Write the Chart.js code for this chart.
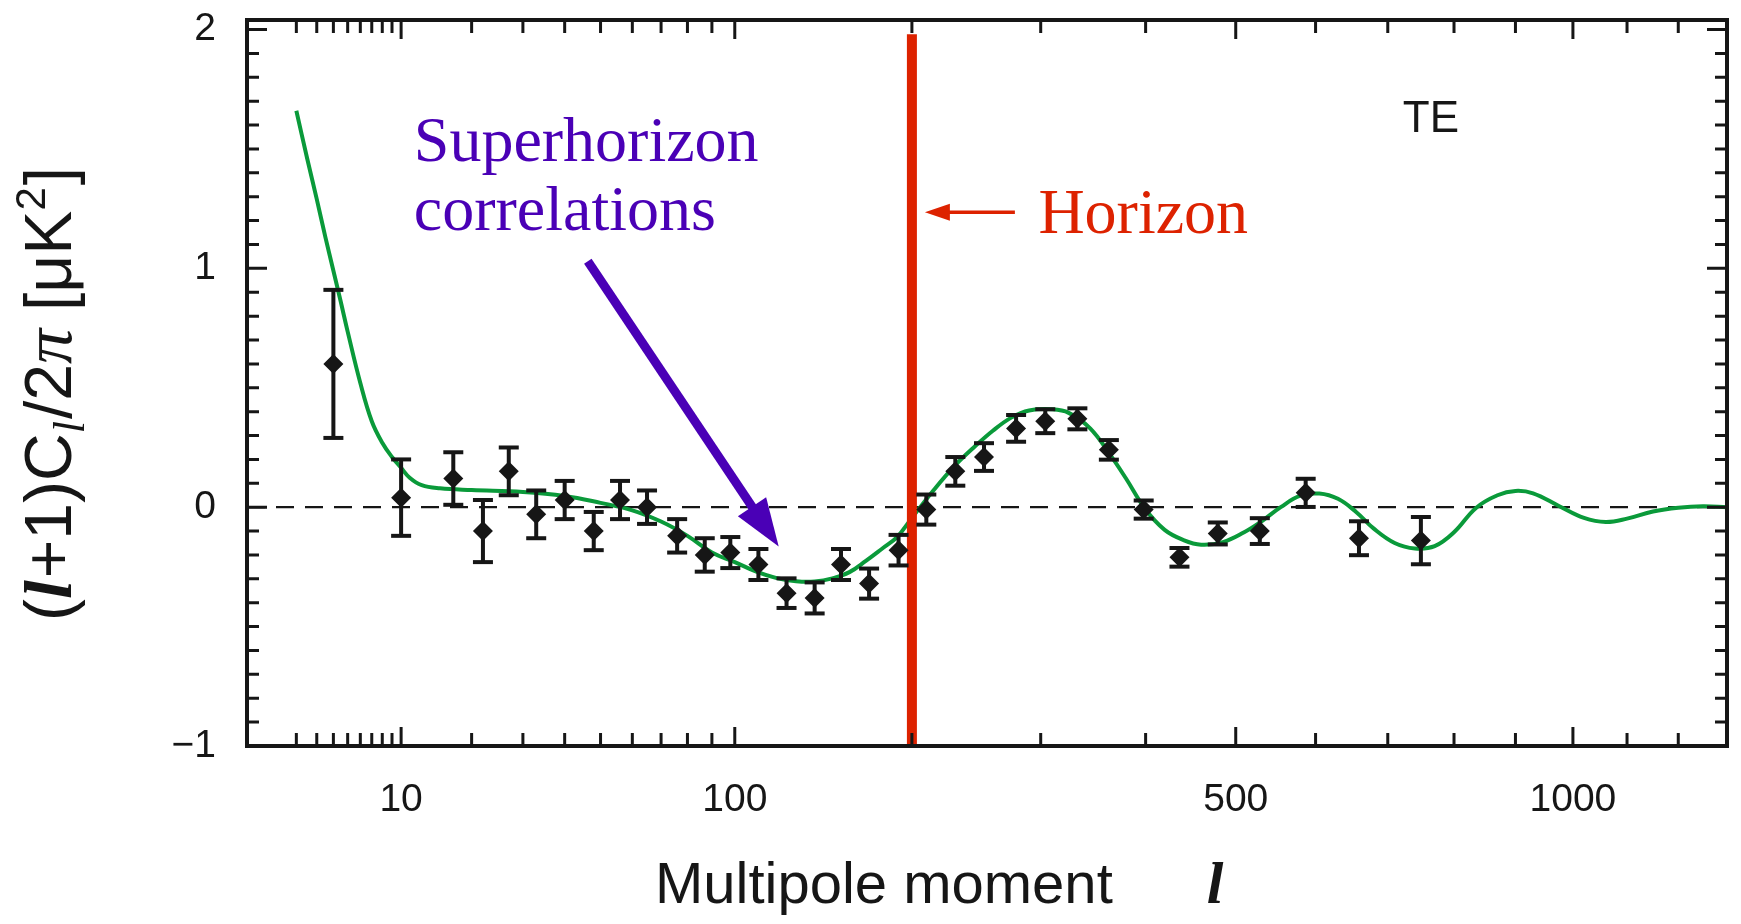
<!DOCTYPE html>
<html lang="en">
<head>
<meta charset="UTF-8">
<title>TE power spectrum</title>
<script src="https://cdn.jsdelivr.net/npm/chart.js"></script>
<style>
  html, body { margin: 0; padding: 0; background: #fff; }
  #wrap { width: 1741px; height: 924px; }
</style>
</head>
<body>
<div id="wrap"><canvas id="teChart"></canvas></div>
<script>
// binned TE measurements: multipole, value, 1-sigma error
const binL = [4, 10, 17, 22, 27, 33, 40, 48, 56, 65, 76, 87, 98, 111, 125, 140, 155, 172,
              191, 210, 231, 253, 279, 304, 333, 363, 398, 436, 479, 529, 587, 659, 749];
const binTE = [0.60, 0.04, 0.12, -0.10, 0.15, -0.03, 0.03, -0.10, 0.03, 0.00, -0.12, -0.20, -0.19,
               -0.24, -0.36, -0.38, -0.24, -0.32, -0.18, -0.01, 0.15, 0.21, 0.33, 0.36, 0.37, 0.24,
               -0.01, -0.21, -0.11, -0.10, 0.06, -0.13, -0.14];
const binErr = [0.31, 0.16, 0.11, 0.13, 0.10, 0.10, 0.08, 0.08, 0.08, 0.07, 0.07, 0.07, 0.065,
                0.065, 0.062, 0.065, 0.065, 0.063, 0.064, 0.063, 0.06, 0.058, 0.056, 0.05, 0.044,
                0.041, 0.038, 0.039, 0.046, 0.054, 0.059, 0.071, 0.099];

// model curve
const modelL = [2, 2.5, 3, 3.5, 4, 4.5, 5, 6, 7, 8, 9, 10, 11, 12.5, 15, 20, 30, 40, 50, 60, 70,
                80, 90, 100, 110, 120, 130, 140, 150, 160, 170, 180, 190, 200, 215, 230, 245, 260,
                275, 290, 310, 325, 345, 365, 380, 400, 420, 440, 460, 485, 510, 530, 555, 580,
                605, 630, 655, 680, 710, 740, 770, 800, 835, 870, 900, 930, 975, 1020, 1060, 1100,
                1150, 1200, 1250, 1300];
const modelTE = [1.66, 1.46, 1.29, 1.13, 0.99, 0.86, 0.735, 0.52, 0.36, 0.27, 0.21, 0.165, 0.123,
                 0.092, 0.079, 0.072, 0.064, 0.047, 0.018, -0.013, -0.06, -0.12, -0.19, -0.23,
                 -0.27, -0.297, -0.31, -0.311, -0.298, -0.272, -0.225, -0.175, -0.125, -0.045,
                 0.07, 0.17, 0.25, 0.32, 0.375, 0.405, 0.41, 0.395, 0.33, 0.215, 0.12, -0.01,
                 -0.095, -0.137, -0.157, -0.146, -0.105, -0.062, 0.0, 0.048, 0.057, 0.035, -0.02,
                 -0.09, -0.15, -0.173, -0.163, -0.105, -0.003, 0.05, 0.068, 0.058, 0.005, -0.045,
                 -0.062, -0.048, -0.018, -0.002, 0.004, 0.0];

// horizon scale
const horizonL = 200;
const horizonSpan = [-1, 1.98];

// axes
const xRange = [0.5, 1300];
const xPower = 0.4;
const xTickLabels = [10, 100, 500, 1000];
const xMinorTicks = [2, 3, 4, 5, 6, 7, 8, 9, 20, 30, 40, 50, 60, 70, 80, 90,
                     200, 300, 400, 600, 700, 800, 900, 1100, 1200];
const yRange = [-1, 2.04];
const yTickLabels = [-1, 0, 1, 2];
const yMinorTicks = Array.from({ length: 31 }, (_, i) => (i - 10) / 10);

// annotation anchors, in data units (multipole, value)
const notes = {
  superhorizon: { l: 11.5, v: 1.45 },
  correlations: { l: 11.5, v: 1.16 },
  horizon: { l: 298, v: 1.15 },
  te: { l: 722, v: 1.57 }
};
const purpleArrow = { from: { l: 46.3, v: 1.03 }, to: { l: 121, v: -0.165 } };
const redArrow = { from: { l: 278, v: 1.235 }, to: { l: 209, v: 1.235 } };

const INK = '#161616';
const GREEN = '#0a9a3a';
const RED = '#dd2200';
const PURPLE = '#4a00b6';

// x axis in the figure is spaced as l^0.4
class PowerScale extends Chart.Scale {
  determineDataLimits() {
    this.min = xRange[0];
    this.max = xRange[1];
  }
  buildTicks() {
    return xTickLabels.map(v => ({ value: v }));
  }
  getLabelForValue(v) { return String(v); }
  getPixelForValue(v) {
    const p0 = Math.pow(this.min, xPower), p1 = Math.pow(this.max, xPower);
    return this.getPixelForDecimal((Math.pow(v, xPower) - p0) / (p1 - p0));
  }
  getValueForPixel(px) {
    const p0 = Math.pow(this.min, xPower), p1 = Math.pow(this.max, xPower);
    return Math.pow(p0 + this.getDecimalForPixel(px) * (p1 - p0), 1 / xPower);
  }
}
PowerScale.id = 'power';
PowerScale.defaults = {};
Chart.register(PowerScale);

const points = binL.map((l, i) => ({ x: l, y: binTE[i] }));
const bars = [];
binL.forEach((l, i) => {
  bars.push({ x: l, y: binTE[i] - binErr[i] });
  bars.push({ x: l, y: binTE[i] + binErr[i] });
  bars.push({ x: l, y: null });
});
const model = modelL.map((l, i) => ({ x: l, y: modelTE[i] }));

function arrow(ctx, x0, y0, x1, y1, width, headLen, headHalf, color) {
  const ang = Math.atan2(y1 - y0, x1 - x0);
  const bx = x1 - Math.cos(ang) * headLen, by = y1 - Math.sin(ang) * headLen;
  ctx.strokeStyle = color;
  ctx.fillStyle = color;
  ctx.lineWidth = width;
  ctx.beginPath();
  ctx.moveTo(x0, y0);
  ctx.lineTo(bx + Math.cos(ang) * 2, by + Math.sin(ang) * 2);
  ctx.stroke();
  ctx.beginPath();
  ctx.moveTo(x1, y1);
  ctx.lineTo(bx + Math.sin(ang) * headHalf, by - Math.cos(ang) * headHalf);
  ctx.lineTo(bx - Math.sin(ang) * headHalf, by + Math.cos(ang) * headHalf);
  ctx.closePath();
  ctx.fill();
}

// draws a run of differently styled text pieces from (x, y) on the baseline
function richText(ctx, parts, x, y) {
  let cx = x;
  parts.forEach(p => {
    ctx.font = p.font;
    ctx.fillText(p.t, cx, y + (p.dy || 0));
    cx += ctx.measureText(p.t).width + (p.gap || 0);
  });
}
function richWidth(ctx, parts) {
  return parts.reduce((w, p) => {
    ctx.font = p.font;
    return w + ctx.measureText(p.t).width + (p.gap || 0);
  }, 0);
}

const overlay = {
  id: 'overlay',
  afterDatasetsDraw(chart) {
    const { ctx, chartArea: a, scales: { x, y } } = chart;
    const px = p => x.getPixelForValue(p.l), py = p => y.getPixelForValue(p.v);
    ctx.save();

    // annotations
    ctx.textBaseline = 'alphabetic';
    ctx.textAlign = 'left';
    ctx.fillStyle = PURPLE;
    ctx.font = '64px "Liberation Serif", "Times New Roman", serif';
    ctx.fillText('Superhorizon', px(notes.superhorizon), py(notes.superhorizon));
    ctx.fillText('correlations', px(notes.correlations), py(notes.correlations));
    arrow(ctx, px(purpleArrow.from), py(purpleArrow.from), px(purpleArrow.to), py(purpleArrow.to),
          9, 48, 17, PURPLE);

    ctx.fillStyle = RED;
    ctx.fillText('Horizon', px(notes.horizon), py(notes.horizon));
    arrow(ctx, px(redArrow.from), py(redArrow.from), px(redArrow.to), py(redArrow.to),
          3.5, 25, 8.5, RED);

    ctx.fillStyle = INK;
    ctx.font = '44px "Liberation Sans", Arial, sans-serif';
    ctx.fillText('TE', px(notes.te), py(notes.te));

    // inward ticks on all four sides
    ctx.strokeStyle = INK;
    ctx.lineWidth = 3;
    ctx.beginPath();
    const xTick = (v, len) => {
      const p = x.getPixelForValue(v);
      ctx.moveTo(p, a.bottom); ctx.lineTo(p, a.bottom - len);
      ctx.moveTo(p, a.top); ctx.lineTo(p, a.top + len);
    };
    const yTick = (v, len) => {
      const p = y.getPixelForValue(v);
      ctx.moveTo(a.left, p); ctx.lineTo(a.left + len, p);
      ctx.moveTo(a.right, p); ctx.lineTo(a.right - len, p);
    };
    xMinorTicks.forEach(v => xTick(v, 13));
    xTickLabels.forEach(v => xTick(v, 19));
    yMinorTicks.forEach(v => yTick(v, yTickLabels.includes(v) ? 20 : 12));
    ctx.stroke();

    ctx.lineWidth = 4;
    ctx.strokeRect(a.left, a.top, a.width, a.height);

    // axis titles
    ctx.fillStyle = INK;
    const sans = s => s + 'px "Liberation Sans", Arial, sans-serif';
    const xParts = [
      { t: 'Multipole moment', font: sans(58), gap: 94 },
      { t: 'l', font: 'italic bold 60px "Liberation Serif", serif' }
    ];
    richText(ctx, xParts, 655, 903);

    const yParts = [
      { t: '(', font: sans(66) },
      { t: 'l', font: 'italic bold 68px "Liberation Serif", serif', gap: 2 },
      { t: '+1)C', font: sans(66) },
      { t: 'l', font: 'italic 44px "Liberation Serif", serif', dy: 13, gap: 2 },
      { t: '/2', font: sans(66) },
      { t: 'π', font: 'italic 70px "Liberation Serif", serif', gap: 18 },
      { t: '[μK', font: sans(66) },
      { t: '2', font: sans(42), dy: -26, gap: 2 },
      { t: ']', font: sans(66) }
    ];
    const w = richWidth(ctx, yParts);
    ctx.translate(71, 394);
    ctx.rotate(-Math.PI / 2);
    richText(ctx, yParts, -w / 2, 0);

    ctx.restore();
  }
};

new Chart(document.getElementById('teChart'), {
  type: 'scatter',
  data: {
    datasets: [
      {
        label: 'zero',
        data: [{ x: xRange[0], y: 0 }, { x: xRange[1], y: 0 }],
        showLine: true, pointRadius: 0,
        borderColor: INK, borderWidth: 2.2, borderDash: [18, 11],
        order: 6
      },
      {
        label: 'model',
        data: model,
        showLine: true, pointRadius: 0, tension: 0.4,
        borderColor: GREEN, borderWidth: 4,
        order: 5
      },
      {
        label: 'horizon',
        data: horizonSpan.map(v => ({ x: horizonL, y: v })),
        showLine: true, pointRadius: 0,
        borderColor: RED, borderWidth: 10, borderCapStyle: 'butt',
        order: 4
      },
      {
        label: 'errors',
        data: bars,
        showLine: true, spanGaps: false,
        borderColor: INK, borderWidth: 4,
        pointStyle: 'line', pointRadius: 10, pointBorderWidth: 4,
        pointBorderColor: INK,
        order: 3
      },
      {
        label: 'TE',
        data: points,
        pointStyle: 'rectRot', pointRadius: 10,
        pointBackgroundColor: INK, pointBorderColor: INK, pointBorderWidth: 0,
        order: 2
      }
    ]
  },
  options: {
    responsive: true,
    maintainAspectRatio: false,
    animation: false,
    devicePixelRatio: 1,
    layout: { padding: { top: 20, right: 11, left: 0, bottom: 0 } },
    plugins: { legend: { display: false }, tooltip: { enabled: false } },
    scales: {
      x: {
        type: 'power',
        position: 'bottom',
        grid: { display: false, drawTicks: false },
        border: { display: false },
        ticks: {
          padding: 31,
          color: INK,
          font: { family: '"Liberation Sans", Arial, sans-serif', size: 39 },
          maxRotation: 0,
          autoSkip: false
        },
        afterFit: s => { s.height = 178; s.paddingLeft = 0; s.paddingRight = 0; }
      },
      y: {
        type: 'linear',
        min: yRange[0],
        max: yRange[1],
        grid: { display: false, drawTicks: false },
        border: { display: false },
        afterBuildTicks: s => { s.ticks = yTickLabels.map(v => ({ value: v })); },
        ticks: {
          padding: 31,
          color: INK,
          font: { family: '"Liberation Sans", Arial, sans-serif', size: 39 },
          callback: v => (v < 0 ? '\u2212' + Math.abs(v) : String(v))
        },
        afterFit: s => { s.width = 247; s.paddingTop = 0; s.paddingBottom = 0; }
      }
    }
  },
  plugins: [overlay]
});
</script>
</body>
</html>
